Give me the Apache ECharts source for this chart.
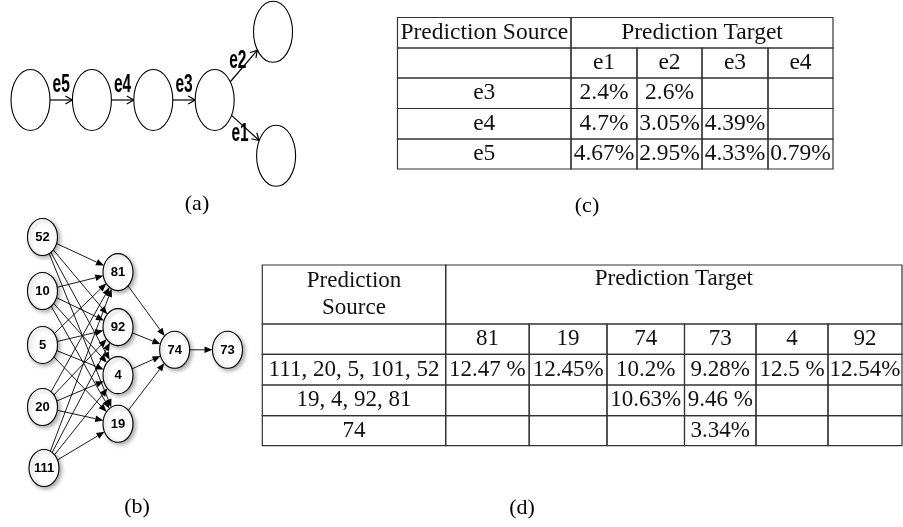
<!DOCTYPE html>
<html><head><meta charset="utf-8">
<script src="https://cdn.jsdelivr.net/npm/echarts@6/dist/echarts.min.js"></script>
<style>html,body{margin:0;padding:0;background:#fff}#chart{width:903px;height:527px}</style>
</head><body><div id="chart"></div>
<script>
// ---------- Diagram (a): chain of edges ----------
const aNodeX = [0, 1, 2, 3, 3.95, 4.0];
const aNodeY = [0, 0, 0, 0, 1.1, -0.9];
const aEdgeFrom = [0, 1, 2, 3, 3];
const aEdgeTo = [1, 2, 3, 4, 5];
const aEdgeLabels = ['e5', 'e4', 'e3', 'e2', 'e1'];

// ---------- Diagram (b): node graph ----------
const bNodeLabels = ['52', '10', '5', '20', '111', '81', '92', '4', '19', '74', '73'];
const bNodeX = [0, 0, 0, 0, 0.02, 1, 1, 1, 1, 1.75, 2.45];
const bNodeY = [0, 1, 2, 3.15, 4.28, 0.65, 1.67, 2.56, 3.46, 2.09, 2.09];
const bEdgeFrom = ['52','52','52','52','10','10','10','10','5','5','5','5','20','20','20','20','111','111','111','111','81','92','4','19','74'];
const bEdgeTo   = ['81','92','4','19','81','92','4','19','81','92','4','19','81','92','4','19','81','92','4','19','74','74','74','74','73'];

// ---------- Table (c) ----------
const cHeaderSource = 'Prediction Source';
const cHeaderTarget = 'Prediction Target';
const cTargets = ['e1', 'e2', 'e3', 'e4'];
const cSources = ['e3', 'e4', 'e5'];
const cValuesE3 = ['2.4%', '2.6%', '', ''];
const cValuesE4 = ['4.7%', '3.05%', '4.39%', ''];
const cValuesE5 = ['4.67%', '2.95%', '4.33%', '0.79%'];

// ---------- Table (d) ----------
const dHeaderSource = 'Prediction\nSource';
const dHeaderTarget = 'Prediction Target';
const dTargets = ['81', '19', '74', '73', '4', '92'];
const dSources = ['111, 20, 5, 101, 52', '19, 4, 92, 81', '74'];
const dValuesRow1 = ['12.47 %', '12.45%', '10.2%', '9.28%', '12.5 %', '12.54%'];
const dValuesRow2 = ['', '', '10.63%', '9.46 %', '', ''];
const dValuesRow3 = ['', '', '', '3.34%', '', ''];

const captions = ['(a)', '(b)', '(c)', '(d)'];

// ---------- layout / style (not data) ----------
const A_RX = 19.5, A_RY = 30.5;
const B_RX = 15, B_RY = 18.5;
const SERIF = '"Liberation Serif", "Times New Roman", Times, serif';
const SANS = '"Liberation Sans", Arial, Helvetica, sans-serif';
const cColW = [173.5, 66, 65, 66, 65];
const cRowH = [30.5, 30, 30.5, 30.5, 30];
const dColW = [183.4, 83.5, 77.8, 77.5, 71.5, 72, 74];
const dRowH = [59, 30.3, 30.7, 30.7, 30];

function clipEllipse(cx, cy, ux, uy, rx, ry) {
  const t = 1 / Math.sqrt((ux / rx) * (ux / rx) + (uy / ry) * (uy / ry));
  return [cx + ux * t, cy + uy * t];
}

function cum(arr) { const out = [0]; arr.forEach(v => out.push(out[out.length - 1] + v)); return out; }

function buildTable(colW, rowH, headSrc, headTgt, targets, sources, rows, font, tgtTopOffset) {
  const xs = cum(colW), ys = cum(rowH);
  const cells = [];
  const nC = colW.length;
  cells.push({ v: [xs[0], ys[0], xs[1], ys[1]], text: headSrc, font: font });
  cells.push({ v: [xs[1], ys[0], xs[nC], ys[1]], text: headTgt, font: font, top: tgtTopOffset });
  cells.push({ v: [xs[0], ys[1], xs[1], ys[2]], text: '', font: font });
  targets.forEach((t, i) => cells.push({ v: [xs[i + 1], ys[1], xs[i + 2], ys[2]], text: t, font: font }));
  sources.forEach((s, r) => {
    cells.push({ v: [xs[0], ys[r + 2], xs[1], ys[r + 3]], text: s, font: font });
    rows[r].forEach((val, i) => cells.push({ v: [xs[i + 1], ys[r + 2], xs[i + 2], ys[r + 3]], text: val, font: font }));
  });
  return cells;
}

const cCells = buildTable(cColW, cRowH, cHeaderSource, cHeaderTarget, cTargets, cSources,
  [cValuesE3, cValuesE4, cValuesE5], '23.5px ' + SERIF, null);
const dCells = buildTable(dColW, dRowH, dHeaderSource, dHeaderTarget, dTargets, dSources,
  [dValuesRow1, dValuesRow2, dValuesRow3], '23px ' + SERIF, 14);

function tableRenderer(cells) {
  return function (params, api) {
    const cell = cells[params.dataIndex];
    const p0 = api.coord([api.value(0), api.value(1)]);
    const p1 = api.coord([api.value(2), api.value(3)]);
    const children = [{
      type: 'rect',
      shape: { x: p0[0], y: p0[1], width: p1[0] - p0[0], height: p1[1] - p0[1] },
      style: { fill: 'none', stroke: '#333', lineWidth: 1.2 }
    }];
    if (cell.text) {
      const ty = cell.top != null ? p0[1] + cell.top : (p0[1] + p1[1]) / 2;
      children.push({
        type: 'text', x: (p0[0] + p1[0]) / 2, y: ty,
        style: { text: cell.text, font: cell.font, fill: '#111', align: 'center', verticalAlign: 'middle', lineHeight: 27 }
      });
    }
    return { type: 'group', children: children };
  };
}

function renderEdgeA(params, api) {
  const p0 = api.coord([api.value(0), api.value(1)]);
  const p1 = api.coord([api.value(2), api.value(3)]);
  let dx = p1[0] - p0[0], dy = p1[1] - p0[1];
  const L = Math.hypot(dx, dy); dx /= L; dy /= L;
  const s = clipEllipse(p0[0], p0[1], dx, dy, A_RX, A_RY);
  const e = clipEllipse(p1[0], p1[1], -dx, -dy, A_RX, A_RY);
  const al = 7, aw = 4, nx = -dy, ny = dx;
  const b1 = [e[0] - dx * al + nx * aw, e[1] - dy * al + ny * aw];
  const b2 = [e[0] - dx * al - nx * aw, e[1] - dy * al - ny * aw];
  const mx = (s[0] + e[0]) / 2, my = (s[1] + e[1]) / 2;
  let lx, ly;
  if (Math.abs(dy) < 0.05) { lx = mx; ly = my - 15; }
  else { let qx = dy, qy = -dx; if (qx > 0) { qx = -qx; qy = -qy; } lx = mx + qx * 8; ly = my + qy * 8; }
  return {
    type: 'group', children: [
      { type: 'line', shape: { x1: s[0], y1: s[1], x2: e[0], y2: e[1] }, style: { stroke: '#000', lineWidth: 1.2 } },
      { type: 'polyline', shape: { points: [b1, e, b2] }, style: { stroke: '#000', lineWidth: 1.2, fill: 'none' } },
      { type: 'text', x: lx, y: ly, scaleX: 0.62,
        style: { text: aEdgeLabels[params.dataIndex], font: 'bold 25px ' + SANS, fill: '#000', align: 'center', verticalAlign: 'middle' } }
    ]
  };
}

function renderNodeA(params, api) {
  const p = api.coord([api.value(0), api.value(1)]);
  return { type: 'ellipse', shape: { cx: p[0], cy: p[1], rx: A_RX, ry: A_RY },
    style: { fill: '#fff', stroke: '#000', lineWidth: 1.1 } };
}

function renderEdgeB(params, api) {
  const p0 = api.coord([api.value(0), api.value(1)]);
  const p1 = api.coord([api.value(2), api.value(3)]);
  let dx = p1[0] - p0[0], dy = p1[1] - p0[1];
  const L = Math.hypot(dx, dy); dx /= L; dy /= L;
  const s = clipEllipse(p0[0], p0[1], dx, dy, B_RX, B_RY);
  const e = clipEllipse(p1[0], p1[1], -dx, -dy, B_RX, B_RY);
  const al = 8, aw = 3.3, nx = -dy, ny = dx;
  const bx = e[0] - dx * al, by = e[1] - dy * al;
  return {
    type: 'group', children: [
      { type: 'line', shape: { x1: s[0], y1: s[1], x2: bx, y2: by }, style: { stroke: '#000', lineWidth: 0.9 } },
      { type: 'polygon', shape: { points: [[bx + nx * aw, by + ny * aw], e, [bx - nx * aw, by - ny * aw]] }, style: { fill: '#000', stroke: 'none' } }
    ]
  };
}

function renderNodeB(params, api) {
  const p = api.coord([api.value(0), api.value(1)]);
  return {
    type: 'group', children: [
      { type: 'ellipse', shape: { cx: p[0], cy: p[1], rx: B_RX, ry: B_RY },
        style: { fill: '#fff', stroke: '#000', lineWidth: 1.1, shadowBlur: 4, shadowOffsetX: 2, shadowOffsetY: 2, shadowColor: 'rgba(0,0,0,0.35)' } },
      { type: 'text', x: p[0], y: p[1] + 0.5,
        style: { text: bNodeLabels[params.dataIndex], font: 'bold 13px ' + SANS, fill: '#000', align: 'center', verticalAlign: 'middle' } }
    ]
  };
}

const bIndex = {};
bNodeLabels.forEach((n, i) => { bIndex[n] = i; });

const hiddenAxis = { show: false, type: 'value' };

const option = {
  animation: false,
  backgroundColor: '#fff',
  grid: [
    { left: 30.5, top: 31.8, width: 245.6, height: 124 },
    { left: 42.5, top: 237, width: 185, height: 231 },
    { left: 397.5, top: 17.5, width: 435.5, height: 151.5 },
    { left: 262.3, top: 265, width: 639.7, height: 180.7 }
  ],
  xAxis: [
    Object.assign({}, hiddenAxis, { gridIndex: 0, min: 0, max: 4 }),
    Object.assign({}, hiddenAxis, { gridIndex: 1, min: 0, max: 2.45 }),
    Object.assign({}, hiddenAxis, { gridIndex: 2, min: 0, max: 435.5 }),
    Object.assign({}, hiddenAxis, { gridIndex: 3, min: 0, max: 639.7 })
  ],
  yAxis: [
    Object.assign({}, hiddenAxis, { gridIndex: 0, min: -0.9, max: 1.1 }),
    Object.assign({}, hiddenAxis, { gridIndex: 1, min: 0, max: 4.28, inverse: true }),
    Object.assign({}, hiddenAxis, { gridIndex: 2, min: 0, max: 151.5, inverse: true }),
    Object.assign({}, hiddenAxis, { gridIndex: 3, min: 0, max: 180.7, inverse: true })
  ],
  graphic: [
    { type: 'text', x: 197, y: 204, style: { text: captions[0], font: '22px ' + SERIF, fill: '#000', align: 'center', verticalAlign: 'middle' } },
    { type: 'text', x: 137, y: 507, style: { text: captions[1], font: '22px ' + SERIF, fill: '#000', align: 'center', verticalAlign: 'middle' } },
    { type: 'text', x: 587, y: 206, style: { text: captions[2], font: '22px ' + SERIF, fill: '#000', align: 'center', verticalAlign: 'middle' } },
    { type: 'text', x: 522, y: 508, style: { text: captions[3], font: '22px ' + SERIF, fill: '#000', align: 'center', verticalAlign: 'middle' } }
  ],
  series: [
    { type: 'custom', name: 'a-edges', xAxisIndex: 0, yAxisIndex: 0, clip: false, silent: true,
      encode: { x: [0, 2], y: [1, 3] },
      data: aEdgeFrom.map((f, i) => [aNodeX[f], aNodeY[f], aNodeX[aEdgeTo[i]], aNodeY[aEdgeTo[i]]]),
      renderItem: renderEdgeA },
    { type: 'custom', name: 'a-nodes', xAxisIndex: 0, yAxisIndex: 0, clip: false, silent: true,
      encode: { x: 0, y: 1 },
      data: aNodeX.map((x, i) => [x, aNodeY[i]]),
      renderItem: renderNodeA },
    { type: 'custom', name: 'b-edges', xAxisIndex: 1, yAxisIndex: 1, clip: false, silent: true,
      encode: { x: [0, 2], y: [1, 3] },
      data: bEdgeFrom.map((f, i) => { const a = bIndex[f], b = bIndex[bEdgeTo[i]]; return [bNodeX[a], bNodeY[a], bNodeX[b], bNodeY[b]]; }),
      renderItem: renderEdgeB },
    { type: 'custom', name: 'b-nodes', xAxisIndex: 1, yAxisIndex: 1, clip: false, silent: true,
      encode: { x: 0, y: 1 },
      data: bNodeX.map((x, i) => [x, bNodeY[i]]),
      renderItem: renderNodeB },
    { type: 'custom', name: 'table-c', xAxisIndex: 2, yAxisIndex: 2, clip: false, silent: true,
      encode: { x: [0, 2], y: [1, 3] },
      data: cCells.map(c => c.v),
      renderItem: tableRenderer(cCells) },
    { type: 'custom', name: 'table-d', xAxisIndex: 3, yAxisIndex: 3, clip: false, silent: true,
      encode: { x: [0, 2], y: [1, 3] },
      data: dCells.map(c => c.v),
      renderItem: tableRenderer(dCells) }
  ]
};

const chart = echarts.init(document.getElementById('chart'), null, { renderer: 'canvas' });
chart.setOption(option);
</script>
</body></html>
